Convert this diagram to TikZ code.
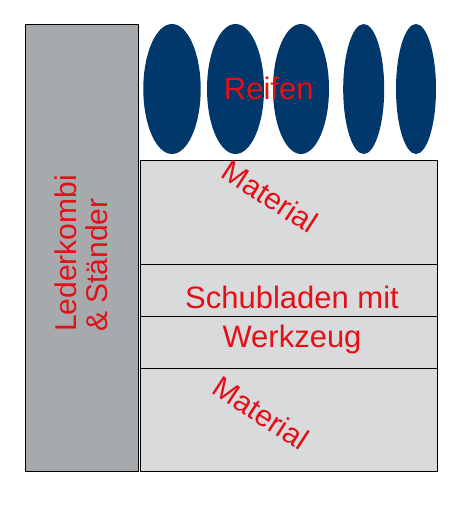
\documentclass[tikz,border=0pt]{standalone}
\usepackage{fontspec}
\setmainfont{Liberation Sans}
\usetikzlibrary{shapes.geometric}
\definecolor{reifenblau}{RGB}{0,56,108}
\definecolor{ledergrau}{RGB}{166,170,173}
\definecolor{fachgrau}{RGB}{217,218,220}
\definecolor{textrot}{RGB}{228,16,24}
\begin{document}
\begin{tikzpicture}[x=1pt, y=-1pt,
  schrift/.style={text=textrot, inner sep=0pt, font=\fontsize{30}{31}\selectfont},
  reifen/.style={ellipse, fill=reifenblau, minimum height=130pt, inner sep=0pt}]
\useasboundingbox (0,0) rectangle (470,506);

% Kasten links, Faecher rechts
\draw[fill=ledergrau, line width=0.8pt] (25,24) rectangle (138,471);
\foreach \oben/\unten in {160/264, 264/316, 316/368, 368/471}
  \draw[fill=fachgrau, line width=0.8pt] (140,\oben) rectangle (437,\unten);

% Reifen
\foreach \x/\w [count=\i] in {172/57.4, 235.5/57, 301/56, 363.7/41, 416/40}
  \node[reifen, minimum width=\w pt] (r\i) at (\x,89) {};

% Beschriftung
\node[schrift, rotate=90, align=left] (leder) at (81,253.5) {Lederkombi\\\& Ständer};
\node[schrift, font=\fontsize{31}{33}\selectfont] (reifentext) at (268.7,88) {Reifen};
\node[schrift, rotate=-33] (mat1) at (270,196.5) {Material};
\node[schrift, font=\fontsize{31}{39}\selectfont, align=center] (schub) at (292,320) {Schubladen mit\\Werkzeug};
\node[schrift, rotate=-33] (mat2) at (261,413) {Material};

\end{tikzpicture}
\end{document}
